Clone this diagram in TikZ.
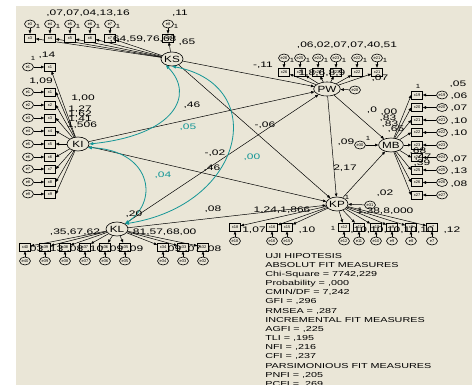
\documentclass[tikz,border=0pt]{standalone}
\usepackage{fontspec}
\setmainfont{Liberation Sans}
\usetikzlibrary{shapes.geometric,arrows.meta}
\definecolor{bgc}{RGB}{234,230,215}
\definecolor{cov}{RGB}{20,150,150}
\begin{document}
\begin{tikzpicture}[x=1pt,y=-1pt,
  lat/.style={draw,line width=0.6pt,ellipse,minimum width=22pt,minimum height=14pt,inner sep=0pt,fill=bgc,font=\fontsize{9}{9}\selectfont},
  obs/.style={draw,line width=0.6pt,rectangle,minimum width=11pt,minimum height=8pt,inner sep=0pt,fill=bgc,font=\fontsize{4}{4}\selectfont},
  err/.style={draw,line width=0.6pt,ellipse,minimum width=11pt,minimum height=8pt,inner sep=0pt,fill=bgc,font=\fontsize{4}{4}\selectfont},
  lbl/.style={font=\fontsize{8}{8}\selectfont,inner sep=0pt,xscale=1.5},
  one/.style={font=\fontsize{6}{6}\selectfont,inner sep=0pt,xscale=1.3},
  tlbl/.style={lbl,text=cov},
  arr/.style={-{Triangle[length=3.2pt,width=2.6pt]},line width=0.5pt},
  covar/.style={{Triangle[length=4pt,width=3pt]}-{Triangle[length=4pt,width=3pt]},draw=cov,line width=0.8pt},
  fit/.style={font=\fontsize{7.2}{9.15}\selectfont,inner sep=0pt,xscale=1.5,align=left,anchor=north west}]
\useasboundingbox (0,0) rectangle (472,385);
\fill[white] (0,0) rectangle (472,385);
\fill[bgc] (16,6) rectangle (472,385);

% latent variables
\node[lat] (KS) at (172,59) {\scalebox{1.3}[1]{KS}};
\node[lat] (PW) at (327,89) {\scalebox{1.3}[1]{PW}};
\node[lat] (KI) at (78,144) {\scalebox{1.3}[1]{KI}};
\node[lat] (MB) at (391,145) {\scalebox{1.3}[1]{MB}};
\node[lat] (KP) at (337,204) {\scalebox{1.3}[1]{KP}};
\node[lat] (KL) at (117,229) {\scalebox{1.3}[1]{KL}};

% KS indicators
\foreach \i/\x/\n in {1/30/3,2/50/4,3/70/5,4/90/6,5/110/7,6/168/8}{
  \node[obs] (ks\i) at (\x,38) {x\n};
  \node[err] (eks\i) at (\x,24) {e\n};
  \node[one] at (\x+8,26) {1};
  \draw[arr] (eks\i) -- (ks\i);
  \draw[arr] (KS) -- (ks\i);
}
% KI indicators
\node[obs] (ki0) at (50,67) {x1};
\node[err] (eki0) at (28,67) {e1};
\draw[arr] (eki0) -- (ki0);
\draw[arr] (KI) -- (ki0);
\foreach \i/\y in {1/92,2/105,3/118,4/131,5/144,6/157,7/169,8/182,9/194}{
  \node[obs] (ki\i) at (50,\y) {x\i};
  \node[err] (eki\i) at (28,\y) {e\i};
  \draw[arr] (eki\i) -- (ki\i);
  \draw[arr] (KI) -- (ki\i.east);
}
% PW indicators
\foreach \i/\x/\n in {1/284/26,2/300/25,3/318/24,4/336/23,5/357/22,6/377/21}{
  \node[obs] (pw\i) at (\x,72) {x\n};
  \node[err] (epw\i) at (\x,58) {e\n};
  \node[one] at (\x+8,60) {1};
  \draw[arr] (epw\i) -- (pw\i);
  \draw[arr] (PW) -- (pw\i);
}
\node[err] (e28) at (355,90) {e28};
\draw[arr] (e28) -- (PW);
% MB indicators
\foreach \i/\y/\n in {1/95/19,2/107.5/20,3/120/21,4/132.5/22,5/145/23,6/157.5/24,7/170/25,8/182.5/26,9/195/27}{
  \node[obs] (mb\i) at (417,\y) {x\n};
  \node[err] (emb\i) at (442,\y) {e\n};
  \draw[arr] (emb\i) -- (mb\i);
  \draw[arr] (MB) -- (mb\i.west);
}
\node[err] (e30) at (360,145) {e30};
\draw[arr] (e30) -- (MB);
% KP indicators
\foreach \i/\x/\n in {1/235/18,2/272/16,3/287/15,4/344/12,5/359/11,6/376/10,7/392/9,8/411/8,9/432/7}{
  \node[obs] (kp\i) at (\x,227) {x\n};
  \node[err] (ekp\i) at (\x,241) {e\n};
  \draw[arr] (ekp\i) -- (kp\i);
  \draw[arr] (KP) -- (kp\i);
}
\node[err] (e31) at (370,205) {e31};
\draw[arr] (e31) -- (KP);
% KL indicators
\foreach \i/\x/\n in {1/25/40,2/45/39,3/65/38,4/85/37,5/105/36,6/125/35,7/163/34,8/183/33,9/203/32}{
  \node[obs] (kl\i) at (\x,247) {x\n};
  \node[err] (ekl\i) at (\x,261) {e\n};
  \draw[arr] (ekl\i) -- (kl\i);
  \draw[arr] (KL) -- (kl\i);
}

% structural paths
\draw[arr] (KS) -- (PW);
\draw[arr] (KI) -- (PW);
\draw[arr] (KS) -- (KP);
\draw[arr] (KL) -- (PW);
\draw[arr] (KI) -- (KP);
\draw[arr] (KL) -- (KP);
\draw[arr] (PW) -- (MB);
\draw[arr] (PW) -- (KP);
\draw[arr] (KP) -- (MB);

% covariances
\draw[covar] (KS.225) .. controls (195,95) and (175,135) .. (KI.east);
\draw[covar] (KS.south) .. controls (270,85) and (245,205) .. (KL.north east);
\draw[covar] (KI.-20) .. controls (150,150) and (160,200) .. (KL.north east);

% labels
\node[lbl] at (88,13) {,07,07,04,13,16};
\node[lbl] at (180,13) {,11};
\node[lbl] at (143,39) {,64,59,76,68};
\node[lbl] at (187,42) {,65};
\node[one] at (33,58) {1};
\node[lbl] at (47,55) {,14};
\node[lbl] at (41,81) {1,09};
\node[lbl] at (83,98) {1,00};
\node[lbl] at (80,109) {1,27};
\node[lbl] at (80,114) {1,62};
\node[lbl] at (80,119) {1,41};
\node[lbl] at (82,125) {1,506};
\node[lbl] at (192,105) {,46};
\node[tlbl] at (188,127) {,05};
\node[lbl] at (265,125) {-,06};
\node[lbl] at (215,153) {-,02};
\node[tlbl] at (252,157) {,00};
\node[lbl] at (212,168) {,46};
\node[tlbl] at (163,175) {,04};
\node[lbl] at (134,214) {,20};
\node[lbl] at (213,209) {,08};
\node[lbl] at (345,168) {2,17};
% PW labels
\node[lbl] at (347,45) {,06,02,07,07,40,51};
\node[lbl] at (263,65) {-,11};
\node[lbl] at (380,78) {,07};
\node[lbl] at (322,73) {1,8,6,8,9};
% MB labels
\node[one] at (418,86) {1};
\node[lbl] at (372,110) {,0};
\node[lbl] at (389,112) {,00};
\node[lbl] at (388,118) {,83};
\node[lbl] at (390,124) {,83};
\node[lbl] at (396,129) {,65};
\node[one] at (368,138) {1};
\node[lbl] at (346,142) {,09};
\node[lbl] at (418,151) {,68};
\node[lbl] at (423,157) {,47};
\node[lbl] at (422,163) {,39};
\node[lbl] at (458,84) {,05};
\node[lbl] at (459,96) {,06};
\node[lbl] at (459,108) {,07};
\node[lbl] at (459,121) {,10};
\node[lbl] at (459,133) {,10};
\node[lbl] at (459,159) {,07};
\node[lbl] at (459,171) {,13};
\node[lbl] at (459,184) {,08};
% KP labels
\node[one] at (347,197) {1};
\node[lbl] at (385,193) {,02};
\node[lbl] at (385,211) {1,38,8,000};
\node[lbl] at (282,210) {1,24,1,866};
\node[lbl] at (254,230) {1,07};
\node[lbl] at (307,230) {,10};
\node[one] at (333,228) {1};
\node[lbl] at (392,230) {,10,10,10,10,10};
\node[lbl] at (452,230) {,12};
% KL labels
\node[lbl] at (75,232) {,35,67,62};
\node[lbl] at (163,232) {,81,57,68,00};
\foreach \x/\v in {35/03,55/13,75/08,95/10,115/09,135/09,173/09,193/07,213/08}{
  \node[lbl] at (\x,249) {,\v};
}

% fit measures
\node[fit] at (265,253) {UJI HIPOTESIS\\
ABSOLUT FIT MEASURES\\
Chi-Square = 7742,229\\
Probability = ,000\\
CMIN/DF = 7,242\\
GFI = ,296\\
RMSEA = ,287\\
INCREMENTAL FIT MEASURES\\
AGFI = ,225\\
TLI = ,195\\
NFI = ,216\\
CFI = ,237\\
PARSIMONIOUS FIT MEASURES\\
PNFI = ,205\\
PCFI = ,269};
\end{tikzpicture}
\end{document}
